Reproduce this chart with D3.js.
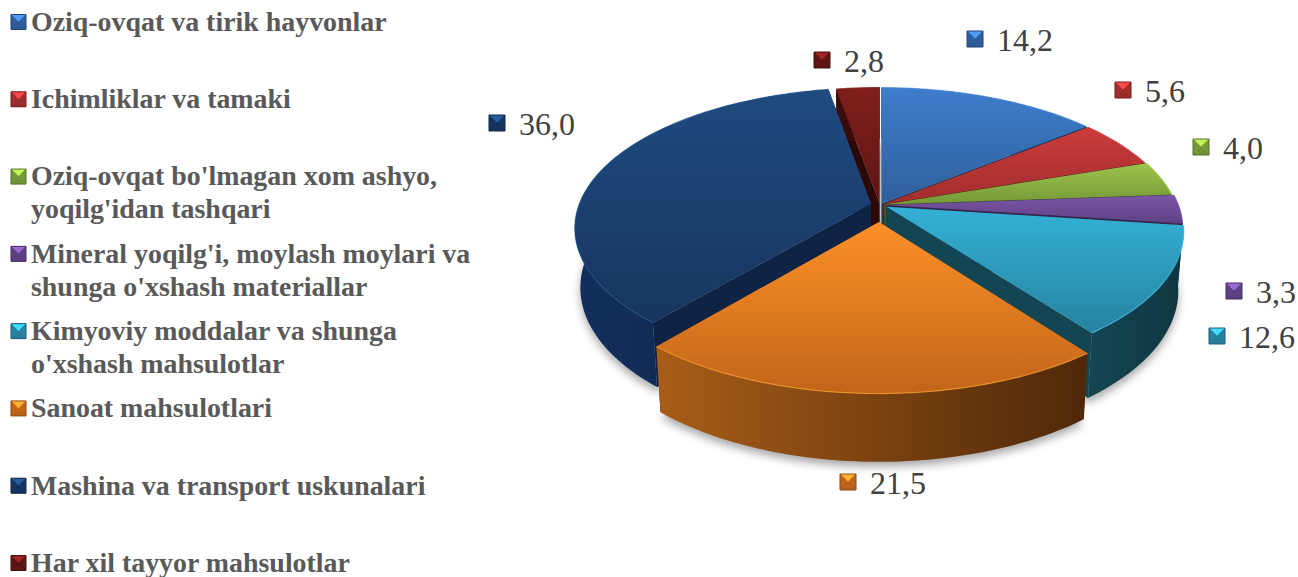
<!DOCTYPE html>
<html><head><meta charset="utf-8">
<script src="https://cdn.jsdelivr.net/npm/d3@7/dist/d3.min.js"></script>
<style>html,body{margin:0;padding:0;background:#fff}svg{display:block}</style>
</head><body><svg id="c" width="1298" height="577"></svg>
<script>
const categories = ["Oziq-ovqat va tirik hayvonlar","Ichimliklar va tamaki","Oziq-ovqat bo'lmagan xom ashyo, yoqilg'idan tashqari","Mineral yoqilg'i, moylash moylari va shunga o'xshash materiallar","Kimyoviy moddalar va shunga o'xshash mahsulotlar","Sanoat mahsulotlari","Mashina va transport uskunalari","Har xil tayyor mahsulotlar"];
const values = [14.2,5.6,4.0,3.3,12.6,21.5,36.0,2.8];
const valueLabels = ["14,2","5,6","4,0","3,3","12,6","21,5","36,0","2,8"];
const legendLines = [["Oziq-ovqat va tirik hayvonlar"],["Ichimliklar va tamaki"],["Oziq-ovqat bo'lmagan xom ashyo,","yoqilg'idan tashqari"],["Mineral yoqilg'i, moylash moylari va","shunga o'xshash materiallar"],["Kimyoviy moddalar va shunga","o'xshash mahsulotlar"],["Sanoat mahsulotlari"],["Mashina va transport uskunalari"],["Har xil tayyor mahsulotlar"]];
// style and layout
const explode = [.012,.012,.016,.022,.026,.122,.032,.012];
const topLight = ["#3e7dcc","#cc3c3b","#9cc44c","#7b56a6","#34b1d6","#fc9027","#1f4b80","#801f1d"];
const topDark  = ["#2f5f9b","#a02e2d","#759838","#5e4183","#2783a1","#c2651a","#173560","#5e1614"];
const sideLeft = ["#1f4068","#6c1f1e","#4f6627","#3f2c58","#134552","#a85d17","#142f5c","#3a0e0c"];
const sideRight= ["#1a3558","#551817","#3f5220","#32234a","#0f3640","#4f2809","#10264a","#2e0a08"];
const cutFace  = ["#1d3a60","#5f1b1a","#445a22","#35254d","#134553","#6a3a10","#0f2444","#2c0807"];
const drawOrder = [7,0,1,2,3,6,4,5];
const labelAnchors = [[975,39],[1123,90],[1201,147],[1234,291],[1217,336],[848,482],[497,123],[822,60]];
const labelGap = 22;

const W=1298,H=577;
const cx=880, cy=205, b=292, a=136, k=.17, depth=58, lowerScale=.982;
const svg=d3.select("#c");
const defs=svg.append("defs");
defs.append("filter").attr("id","blur").attr("x","-10%").attr("y","-10%").attr("width","120%").attr("height","120%")
  .append("feGaussianBlur").attr("stdDeviation",4);

const pie=d3.pie().sort(null).value(d=>d);
const arcs=pie(values);
const proj=(u,v,lower)=>{
  const s=1/(1-k*v), f=lower?lowerScale:1;
  return [cx+b*u*s*f, cy+a*v*s*f+(lower?depth*s:0)];
};
const line=d3.line();
arcs.forEach((d,i)=>{
  const mid=(d.startAngle+d.endAngle)/2;
  d.ou=explode[i]*Math.sin(mid);
  d.ov=-explode[i]*Math.cos(mid);
  const n=Math.max(6,Math.ceil((d.endAngle-d.startAngle)*40));
  d.rim=d3.range(n+1).map(j=>{
    const t=d.startAngle+(d.endAngle-d.startAngle)*j/n;
    return [d.ou+Math.sin(t), d.ov-Math.cos(t)];
  });
  d.apex=[d.ou,d.ov];
  const ys=d.rim.map(p=>proj(p[0],p[1])[1]).concat(proj(d.ou,d.ov)[1]);
  const g1=defs.append("linearGradient").attr("id","top"+i).attr("gradientUnits","userSpaceOnUse")
    .attr("x1",0).attr("x2",0).attr("y1",d3.min(ys)).attr("y2",d3.max(ys));
  g1.append("stop").attr("offset",0).attr("stop-color",topLight[i]);
  g1.append("stop").attr("offset",1).attr("stop-color",topDark[i]);
  const xs=d.rim.map(p=>proj(p[0],p[1])[0]);
  const g2=defs.append("linearGradient").attr("id","side"+i).attr("gradientUnits","userSpaceOnUse")
    .attr("x1",d3.min(xs)).attr("x2",d3.max(xs)).attr("y1",0).attr("y2",0);
  g2.append("stop").attr("offset",0).attr("stop-color",sideLeft[i]);
  g2.append("stop").attr("offset",1).attr("stop-color",sideRight[i]);
});
const gs=svg.append("g");
// soft ground shadow
arcs.forEach(d=>{
  const pts=[d.apex,...d.rim].map(p=>{const q=proj(p[0],p[1],true);return [q[0],q[1]+5];});
  gs.append("path").attr("d",line(pts)+"Z").attr("fill","#8c8c8c").attr("filter","url(#blur)").attr("opacity",.75);
});
const gp=svg.append("g");
drawOrder.forEach(i=>{
  const d=arcs[i];
  const top=p=>proj(p[0],p[1]), low=p=>proj(p[0],p[1],true);
  // cut faces
  [d.rim[0],d.rim[d.rim.length-1]].forEach(e=>{
    const pts=[top(d.apex),top(e),low(e),low(d.apex)];
    gp.append("path").attr("d",line(pts)+"Z").attr("fill",cutFace[i]);
  });
  // outer wall
  const wall=d.rim.map(top).concat(d.rim.slice().reverse().map(low));
  gp.append("path").attr("d",line(wall)+"Z").attr("fill",`url(#side${i})`);
  // top face
  const face=[d.apex,...d.rim].map(top);
  gp.append("path").attr("d",line(face)+"Z").attr("fill",`url(#top${i})`);
  // light rim
  gp.append("path").attr("d",line(d.rim.map(top))).attr("fill","none")
    .attr("stroke",d3.color(topLight[i]).brighter(.3)).attr("stroke-width",1.2).attr("opacity",.7);
});

// bevelled marker
function marker(g,x,y,i,size){
  const h=size/2;
  const base=d3.color(topLight[i]);
  const c=[[x-h,y-h],[x+h,y-h],[x+h,y+h],[x-h,y+h]];
  g.append("path").attr("d",line(c)+"Z").attr("fill",d3.color(topDark[i]).darker(.5));
  g.append("path").attr("d",line([c[0],c[1],[x,y]])+"Z").attr("fill",base.brighter(.6));
  g.append("path").attr("d",line([c[3],c[2],[x,y]])+"Z").attr("fill",d3.color(topDark[i]).darker(.1));
  g.append("path").attr("d",line([c[0],c[3],[x,y]])+"Z").attr("fill",d3.color(topDark[i]));
  g.append("path").attr("d",line([c[1],c[2],[x,y]])+"Z").attr("fill",d3.color(topDark[i]));
  g.append("path").attr("d",line(c)+"Z").attr("fill","none").attr("stroke",d3.color(topDark[i]).darker(.9)).attr("stroke-width",1);
}
// data labels
const gl=svg.append("g");
valueLabels.forEach((t,i)=>{
  const [x,y]=labelAnchors[i];
  marker(gl,x,y,i,16);
  gl.append("text").attr("x",x+labelGap).attr("y",y+1).attr("dy",".35em")
    .attr("font-family","'Liberation Serif',serif").attr("font-size",32).attr("fill","#404040").text(t);
});
// legend
const gL=svg.append("g");
const yLegend=d3.scalePoint().domain(categories).range([22,563]);
categories.forEach((c,i)=>{
  const y=yLegend(c);
  marker(gL,18.5,y,i,15);
  legendLines[i].forEach((ln,j)=>{
    gL.append("text").attr("x",31).attr("y",y+j*33).attr("dy",".32em")
      .attr("font-family","'Liberation Serif',serif").attr("font-weight","bold").attr("font-size",27.9)
      .attr("fill","#595959").text(ln);
  });
});
</script></body></html>
